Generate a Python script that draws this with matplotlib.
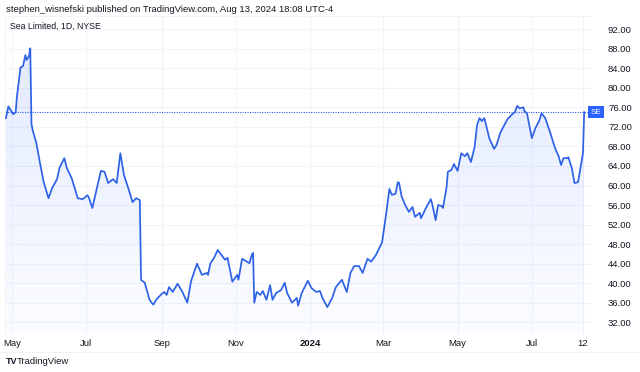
import matplotlib
matplotlib.use("Agg")
import matplotlib.pyplot as plt
import matplotlib.dates as mdates
import numpy as np
import pandas as pd
from matplotlib.patches import Polygon
from matplotlib.transforms import blended_transform_factory

plt.rcParams['font.family'] = ['Liberation Sans', 'DejaVu Sans']

# ---- data (daily closes) ----
dates = [
    "2023-04-26", "2023-04-28", "2023-05-02", "2023-05-04", "2023-05-05", "2023-05-08",
    "2023-05-10", "2023-05-12", "2023-05-13", "2023-05-15", "2023-05-16", "2023-05-17",
    "2023-05-18", "2023-05-21", "2023-05-24", "2023-05-27", "2023-05-31", "2023-06-03",
    "2023-06-07", "2023-06-09", "2023-06-13", "2023-06-15", "2023-06-19", "2023-06-24",
    "2023-06-28", "2023-07-02", "2023-07-03", "2023-07-06", "2023-07-09", "2023-07-13",
    "2023-07-16", "2023-07-19", "2023-07-23", "2023-07-26", "2023-07-29", "2023-08-01",
    "2023-08-05", "2023-08-08", "2023-08-11", "2023-08-14", "2023-08-15", "2023-08-18",
    "2023-08-22", "2023-08-25", "2023-08-28", "2023-09-01", "2023-09-03", "2023-09-05",
    "2023-09-07", "2023-09-10", "2023-09-14", "2023-09-18", "2023-09-22", "2023-09-25",
    "2023-09-26", "2023-09-30", "2023-10-04", "2023-10-08", "2023-10-09", "2023-10-11",
    "2023-10-14", "2023-10-17", "2023-10-20", "2023-10-23", "2023-10-25", "2023-10-29",
    "2023-11-02", "2023-11-03", "2023-11-06", "2023-11-10", "2023-11-12", "2023-11-14",
    "2023-11-15", "2023-11-16", "2023-11-18", "2023-11-21", "2023-11-23", "2023-11-26",
    "2023-11-29", "2023-12-01", "2023-12-04", "2023-12-08", "2023-12-11", "2023-12-13",
    "2023-12-17", "2023-12-21", "2023-12-22", "2023-12-25", "2023-12-30", "2024-01-02",
    "2024-01-06", "2024-01-09", "2024-01-11", "2024-01-15", "2024-01-19", "2024-01-22",
    "2024-01-27", "2024-01-31", "2024-02-03", "2024-02-06", "2024-02-10", "2024-02-13",
    "2024-02-17", "2024-02-20", "2024-02-24", "2024-02-29", "2024-03-03", "2024-03-06",
    "2024-03-08", "2024-03-11", "2024-03-13", "2024-03-14", "2024-03-16", "2024-03-19",
    "2024-03-22", "2024-03-25", "2024-03-27", "2024-03-31", "2024-04-01", "2024-04-05",
    "2024-04-09", "2024-04-10", "2024-04-13", "2024-04-15", "2024-04-18", "2024-04-19",
    "2024-04-22", "2024-04-23", "2024-04-26", "2024-04-28", "2024-05-01", "2024-05-04",
    "2024-05-07", "2024-05-09", "2024-05-12", "2024-05-15", "2024-05-17", "2024-05-19",
    "2024-05-21", "2024-05-23", "2024-05-25", "2024-05-27", "2024-05-31", "2024-06-02",
    "2024-06-05", "2024-06-08", "2024-06-11", "2024-06-15", "2024-06-17", "2024-06-19",
    "2024-06-21", "2024-06-24", "2024-06-25", "2024-06-27", "2024-07-01", "2024-07-04",
    "2024-07-07", "2024-07-09", "2024-07-12", "2024-07-16", "2024-07-20", "2024-07-23",
    "2024-07-25", "2024-07-27", "2024-07-30", "2024-07-31", "2024-08-03", "2024-08-05",
    "2024-08-08", "2024-08-10", "2024-08-12", "2024-08-13",
]
prices = [
    73.8, 76.2, 74.6, 75.0, 78.1, 84.2,
    84.4, 86.7, 85.7, 86.5, 88.1, 72.6,
    71.3, 68.7, 64.6, 60.7, 57.4, 59.5,
    61.3, 63.6, 65.6, 63.6, 61.5, 57.4,
    57.2, 58.0, 57.6, 55.4, 58.7, 63.0,
    62.8, 60.5, 61.3, 60.5, 66.6, 62.1,
    59.1, 56.6, 57.4, 57.0, 40.7, 40.1,
    36.6, 35.6, 36.8, 37.8, 38.2, 37.6,
    39.2, 38.2, 39.9, 38.2, 36.0, 40.3,
    41.1, 44.0, 41.7, 42.1, 41.7, 44.1,
    45.2, 46.8, 45.8, 44.8, 45.2, 40.3,
    41.7, 40.7, 45.0, 44.4, 44.1, 45.8,
    46.2, 36.0, 38.2, 37.6, 38.4, 36.6,
    39.6, 36.6, 38.0, 38.6, 40.1, 38.0,
    36.0, 37.0, 35.4, 38.0, 40.5, 39.0,
    38.2, 38.4, 37.0, 35.1, 37.0, 39.2,
    40.7, 38.2, 42.1, 43.5, 43.5, 42.1,
    45.0, 44.4, 45.8, 48.4, 53.6, 59.3,
    58.1, 58.3, 60.7, 60.5, 57.8, 56.0,
    54.6, 55.6, 53.6, 54.4, 53.3, 55.4,
    57.2, 56.4, 52.9, 56.0, 55.8, 55.4,
    59.7, 62.8, 63.2, 64.4, 63.0, 66.6,
    66.0, 66.6, 64.8, 67.9, 72.4, 73.8,
    73.2, 73.8, 71.8, 69.7, 67.5, 68.3,
    70.7, 72.2, 73.6, 74.6, 75.0, 76.3,
    75.8, 76.0, 75.2, 74.8, 69.7, 71.8,
    73.2, 74.8, 73.8, 70.9, 67.7, 66.0,
    64.2, 65.6, 65.6, 65.8, 63.4, 60.5,
    60.7, 63.6, 66.6, 75.0,
]
tick_dates = ["2023-05-01", "2023-07-01", "2023-09-01", "2023-11-01", "2024-01-01",
              "2024-03-01", "2024-05-01", "2024-07-01", "2024-08-12"]
tick_labels = ["May", "Jul", "Sep", "Nov", "2024", "Mar", "May", "Jul", "12"]
price_ticks = list(range(32, 93, 4))
last_price = prices[-1]
symbol = "SE"

# ---- figure ----
W, H = 640, 372
fig = plt.figure(figsize=(W / 100, H / 100), dpi=100)
fig.patch.set_facecolor("white")
ax = fig.add_axes([5 / W, 1 - 334 / H, (592 - 5) / W, (334 - 16) / H])

x = mdates.date2num(pd.to_datetime(dates))
y = np.array(prices)
line_color = "#2e62e6"

ylo, yhi = 29.6, 94.7
ax.set_ylim(ylo, yhi)
ax.set_xlim(mdates.date2num(pd.Timestamp("2023-04-25 06:00")),
            mdates.date2num(pd.Timestamp("2024-08-19 10:00")))

# gradient fill under the line
verts = np.column_stack([np.r_[x[0], x, x[-1]], np.r_[ylo, y, ylo]])
poly = Polygon(verts, closed=True, facecolor="none", edgecolor="none")
ax.add_patch(poly)
n = 256
grad = np.zeros((n, 1, 4))
grad[:, 0, 0] = 41 / 255
grad[:, 0, 1] = 98 / 255
grad[:, 0, 2] = 255 / 255
grad[:, 0, 3] = np.linspace(0.13, 0.015, n)
im = ax.imshow(grad, extent=[x[0], x[-1], ylo, y.max()], aspect="auto",
               origin="upper", zorder=1, interpolation="bilinear")
im.set_clip_path(poly)

ax.plot(x, y, color=line_color, lw=1.25, zorder=3, solid_joinstyle="round")
ax.axhline(last_price, color=line_color, lw=0.8, ls=(0, (1, 1.2)), zorder=2)

# grid
tx = mdates.date2num(pd.to_datetime(tick_dates))
ax.set_xticks(tx)
ax.set_xticklabels(tick_labels)
for lab in ax.get_xticklabels():
    if lab.get_text() == "2024":
        lab.set_fontweight("bold")
ax.set_yticks(price_ticks)
ax.set_yticklabels([f"{p:.2f}" for p in price_ticks])
ax.yaxis.tick_right()
ax.tick_params(axis="y", length=0, pad=11.5, labelsize=6.8, colors="#131722")
ax.tick_params(axis="x", length=0, pad=3.5, labelsize=6.8, colors="#131722")
for lab in ax.get_yticklabels():
    lab.set_horizontalalignment("left")
ax.grid(True, color="#f0f3fa", lw=0.8, zorder=0)
ax.set_axisbelow(True)
for s in ax.spines.values():
    s.set_color("#f0f3fa")
    s.set_linewidth(0.6)
ax.spines["bottom"].set_visible(False)
ax.spines["right"].set_visible(False)

# last-price label
tr = blended_transform_factory(ax.transAxes, ax.transData)
ax.text(1.0068, last_price, symbol, transform=tr, ha="center", va="center",
        fontsize=5.8, color="white",
        bbox=dict(boxstyle="square,pad=0.28", fc="#2962ff", ec="none"), zorder=5,
        clip_on=False)

# header / footer texts
fig.text(6 / W, 1 - 9 / H, "stephen_wisnefski published on TradingView.com, Aug 13, 2024 18:08 UTC-4",
         ha="left", va="center", fontsize=6.8, color="#131722")
fig.text(10 / W, 1 - 26 / H, "Sea Limited, 1D, NYSE", ha="left", va="center",
         fontsize=6.3, color="#131722")
fig.text(6 / W, 1 - 362 / H, "TV", ha="left", va="center", fontsize=6.5,
         fontweight="bold", color="#131722")
fig.text(17 / W, 1 - 362 / H, "TradingView", ha="left", va="center", fontsize=6.8,
         color="#131722")
fig.add_artist(plt.Line2D([0, 1], [1 - 352 / H, 1 - 352 / H], transform=fig.transFigure,
                          color="#eef0f4", lw=0.6))

fig.savefig("out.png", dpi=100, facecolor="white")
